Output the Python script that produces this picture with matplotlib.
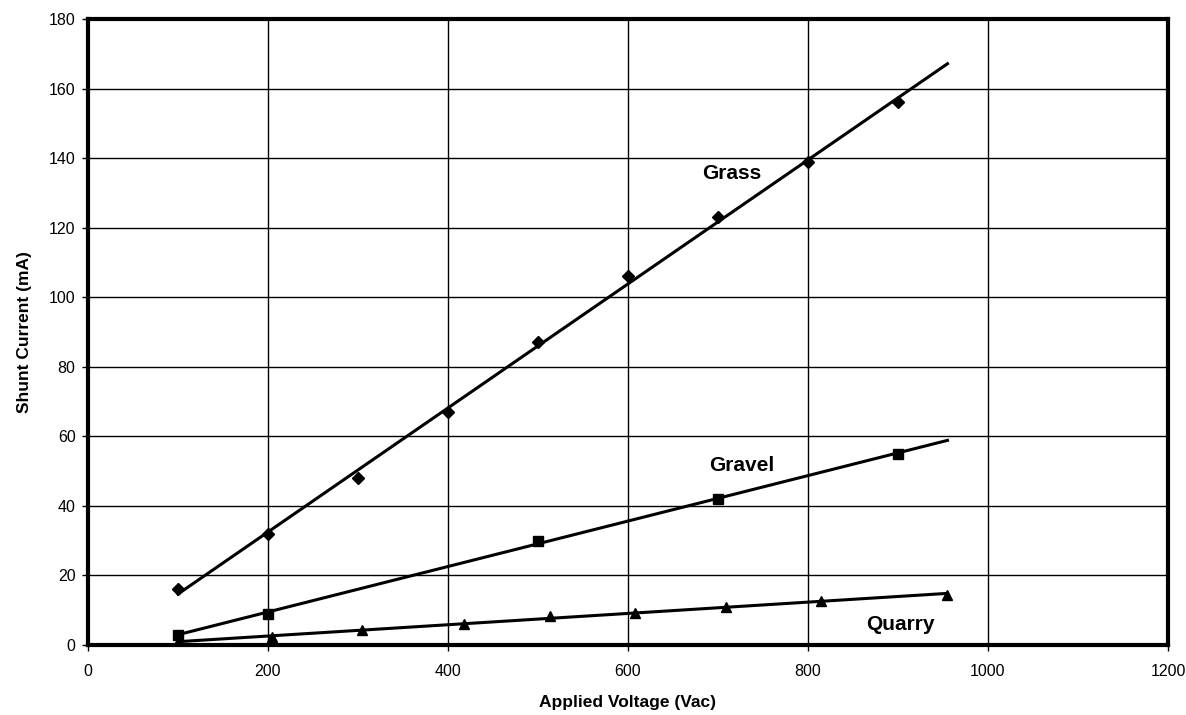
import numpy as np
import matplotlib
matplotlib.use("Agg")
import matplotlib.pyplot as plt

# Shunt current vs applied voltage for three surfaces
grass_v = [100, 200, 300, 400, 500, 600, 700, 800, 900]
grass_ma = [16, 32, 48, 67, 87, 106, 123, 139, 156]

gravel_v = [100, 200, 500, 700, 900]
gravel_ma = [3, 9, 30, 42, 55]

quarry_v = [100, 204, 304, 418, 513, 608, 709, 814, 954]
quarry_ma = [1, 2.3, 4.3, 6, 8.2, 9.2, 10.9, 12.7, 14.5]

trend_range = (100, 955)

x_ticks = [0, 200, 400, 600, 800, 1000, 1200]
y_ticks = [0, 20, 40, 60, 80, 100, 120, 140, 160, 180]

plt.rcParams['font.family'] = ['Liberation Sans', 'DejaVu Sans']

fig = plt.figure(figsize=(11.86, 7.15), dpi=100)
ax = fig.add_axes([0.0742, 0.0979, 0.9106, 0.8755])

series = [
    (grass_v, grass_ma, 'D', 6, "Grass", (715, 135.5)),
    (gravel_v, gravel_ma, 's', 7, "Gravel", (726, 51.5)),
    (quarry_v, quarry_ma, '^', 7, "Quarry", (903, 5.8)),
]

for xs, ys, mk, ms, name, pos in series:
    ax.plot(xs, ys, linestyle='none', marker=mk, markersize=ms,
            color='black', zorder=3)
    # linear trend line, like the spreadsheet one
    k, b = np.polyfit(xs, ys, 1)
    tx = np.array(trend_range)
    ax.plot(tx, k * tx + b, color='black', linewidth=2.2, zorder=2)
    ax.text(pos[0], pos[1], name, fontsize=15, fontweight='bold',
            ha='center', va='center')

ax.set_xlim(0, 1200)
ax.set_ylim(0, 180)
ax.set_xticks(x_ticks)
ax.set_yticks(y_ticks)
ax.grid(True, color='black', linewidth=1.0)
ax.set_axisbelow(True)

for sp in ax.spines.values():
    sp.set_linewidth(3)
    sp.set_color('black')

ax.tick_params(axis='both', labelsize=11.5, length=4, width=1, direction='out')
ax.tick_params(axis='x', pad=10)
ax.tick_params(axis='y', pad=5)
ax.set_xlabel("Applied Voltage (Vac)", fontsize=12.5, fontweight='bold', labelpad=11)
ax.set_ylabel("Shunt Current (mA)", fontsize=12.5, fontweight='bold', labelpad=12)

fig.savefig("out.png", dpi=100)
